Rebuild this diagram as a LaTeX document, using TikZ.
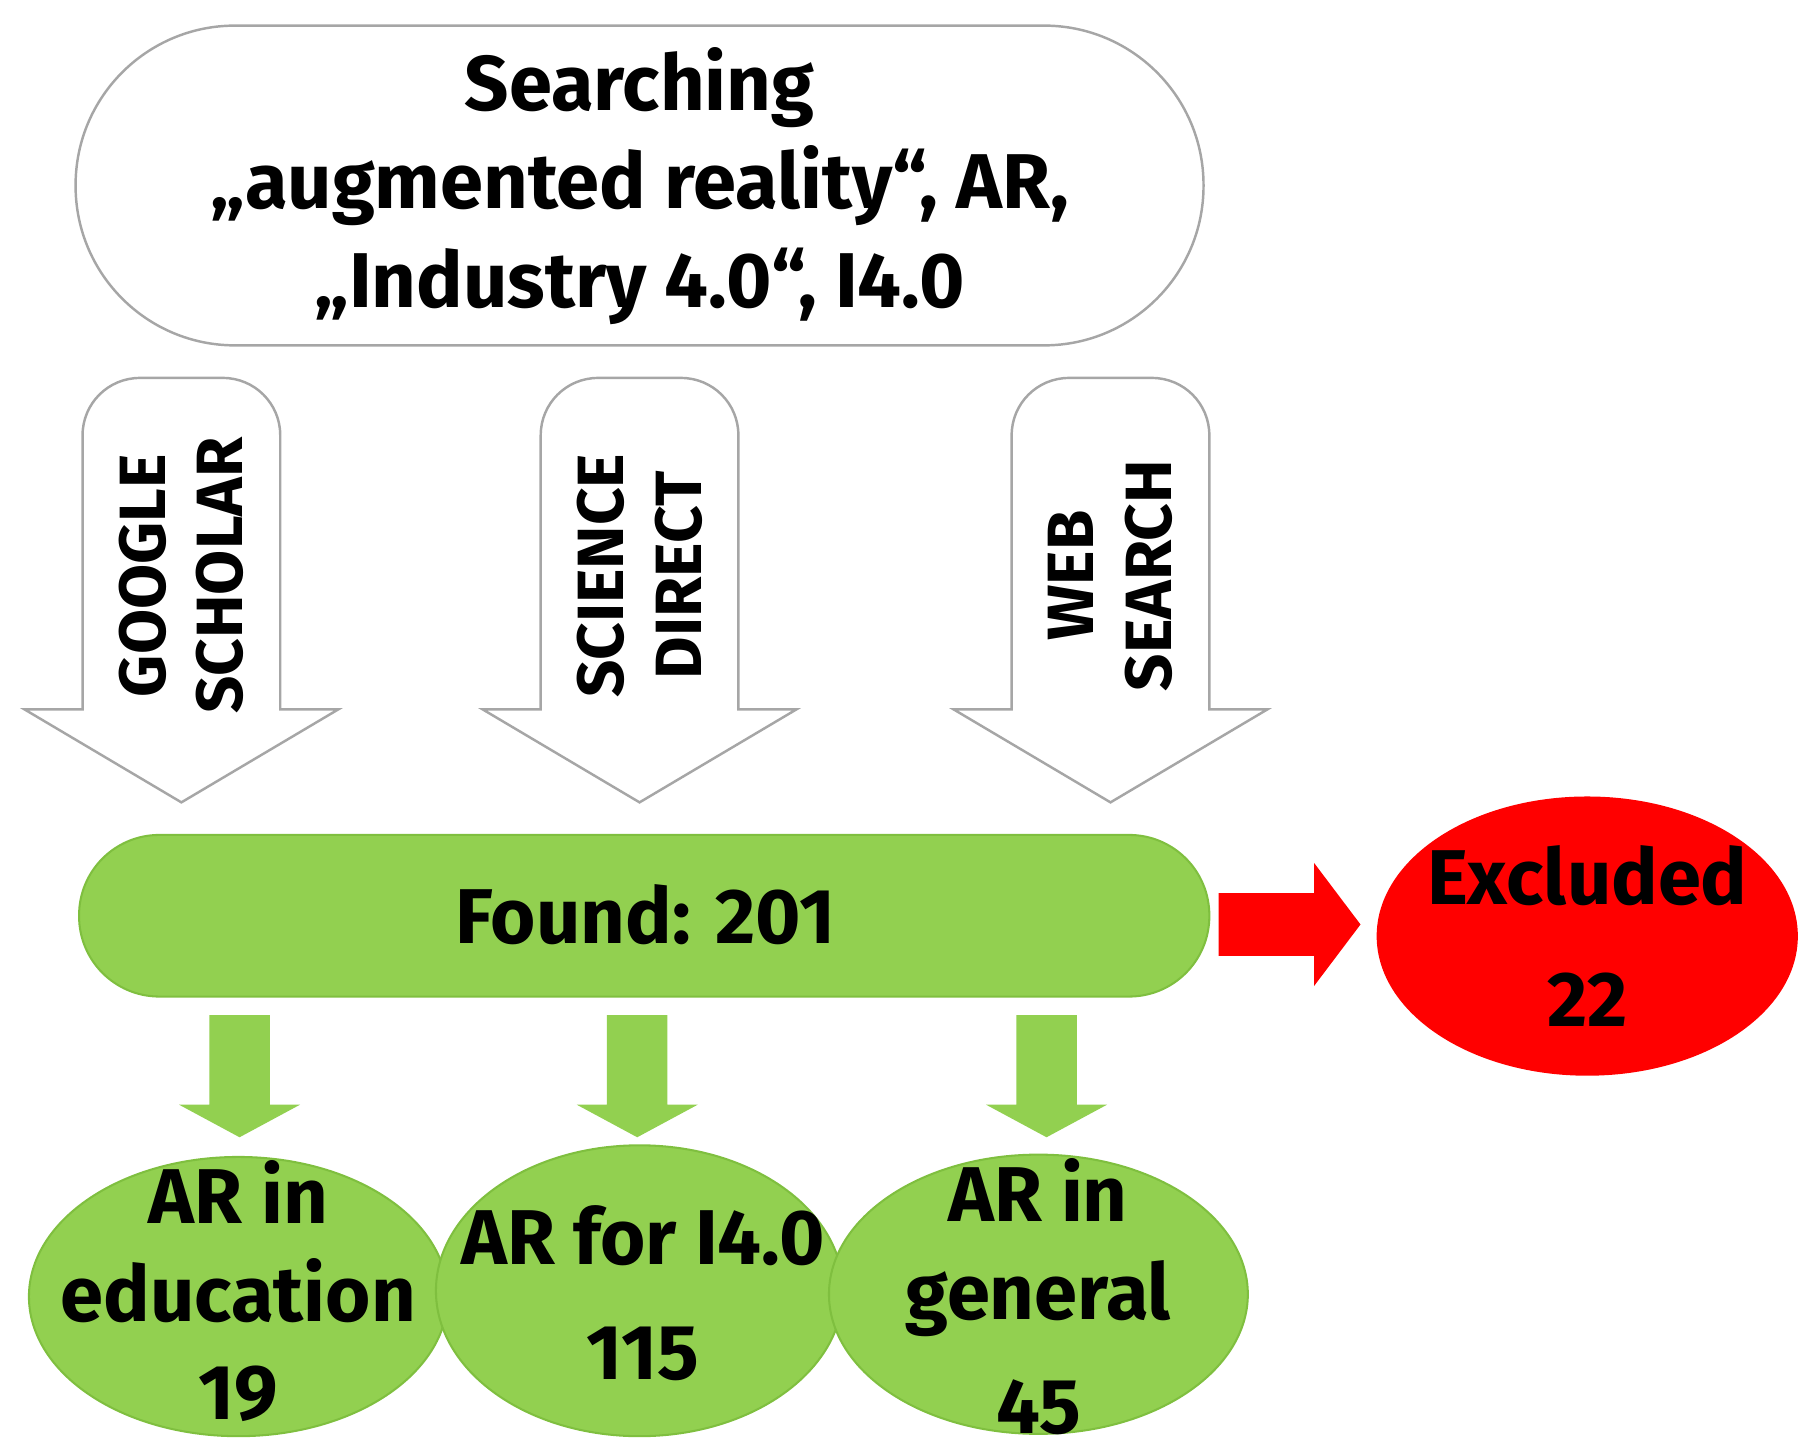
\documentclass[tikz,border=0pt]{standalone}
\usepackage{fontspec}
\setmainfont{Fira Sans}
\usetikzlibrary{shapes.geometric}
\definecolor{gr}{HTML}{92D050}
\definecolor{grd}{HTML}{7FBF3F}
\begin{document}
\begin{tikzpicture}[x=0.01cm,y=-0.01cm,
  big/.style={font=\fontsize{19}{24}\selectfont\bfseries},
  mid/.style={font=\fontsize{16}{19}\selectfont\bfseries},
  blk/.style={draw=black!35,fill=white,line width=0.6pt},
  gell/.style={ellipse,fill=gr,draw=grd,line width=0.5pt,inner sep=0pt}]
\useasboundingbox (0,0) rectangle (1560,1250);
% top box
\draw[black!35,line width=0.6pt,fill=white,rounded corners=1.37cm] (65,22) rectangle (1035,297);
\node[big,align=center] (toptxt) at (550,160) {Searching\\„augmented reality“, AR,\\„Industry 4.0“, I4.0};
% block arrows
\foreach \c/\t/\n in {156/{GOOGLE\\SCHOLAR}/a,550/{SCIENCE\\DIRECT}/b,955/{WEB\\SEARCH}/c}{
  \draw[blk] (\c-85,610) [rounded corners=14pt]-- (\c-85,325) -- (\c+85,325) [sharp corners]-- (\c+85,610) -- (\c+135,610) -- (\c,690) -- (\c-135,610) -- cycle;
  \node[rotate=90,align=center,mid] (\n) at (\c,495) {\t};
}
% found
\draw[fill=gr,draw=grd,line width=0.5pt,rounded corners=0.69cm] (68,718) rectangle (1040,857);
\node[big] (found) at (555,787) {Found: 201};
% red arrow
\fill[red] (1048,768) -- (1130,768) -- (1130,742) -- (1170,795) -- (1130,848) -- (1130,822) -- (1048,822) -- cycle;
\node[ellipse,fill=red,minimum width=3.62cm,minimum height=2.4cm,inner sep=0pt] (ex) at (1365,805) {};
\node[big,align=center] (extxt) at (1365,805) {Excluded\\[6pt]22};
% green arrows
\foreach \c in {206,548,900}{
  \fill[gr] (\c-26,873) -- (\c+26,873) -- (\c+26,950) -- (\c+52,950) -- (\c,978) -- (\c-52,950) -- (\c-26,950) -- cycle;
}
\node[gell,minimum width=3.6cm,minimum height=2.4cm] (e1) at (205,1115) {};
\node[gell,minimum width=3.5cm,minimum height=2.5cm] (e2) at (550,1110) {};
\node[gell,minimum width=3.6cm,minimum height=2.4cm] (e3) at (893,1113) {};
\node[big,align=center] at (205,1110) {AR in\\education\\19};
\node[big,align=center] at (553,1112) {AR for I4.0\\[4pt]115};
\node[big,align=center] at (893,1115) {AR in\\general\\[4pt]45};
\end{tikzpicture}
\end{document}
